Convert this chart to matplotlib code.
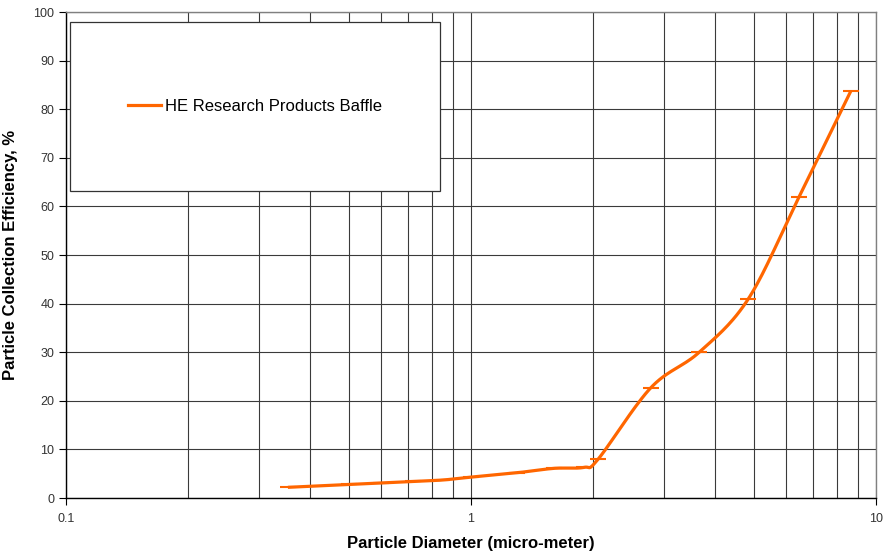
import numpy as np
import matplotlib
matplotlib.use("Agg")
import matplotlib.pyplot as plt
from matplotlib.patches import Rectangle
from matplotlib.ticker import FixedLocator, NullFormatter, FixedFormatter

plt.rcParams['font.family'] = ['Liberation Sans', 'DejaVu Sans']

series_name = "HE Research Products Baffle"
diameter = [0.353, 0.5, 0.6, 0.72, 0.85, 1.0, 1.3, 1.6, 1.9, 2.06, 2.78, 3.66, 4.84, 6.45, 8.66]
efficiency = [2.2, 2.8, 3.1, 3.4, 3.7, 4.3, 5.2, 6.1, 6.3, 8.0, 22.7, 30.0, 41.0, 61.9, 83.7]
x_tick_labels = ["0.1", "1", "10"]
y_ticks = list(range(0, 101, 10))


def excel_smooth(xs, ys, n=30):
    # Excel-like smoothed line (cardinal Bezier) in log-x space
    lx = np.log10(np.asarray(xs, float))
    y = np.asarray(ys, float)
    sx, sy = 405.0, 4.86
    P = np.column_stack([lx * sx, y * sy])
    out = [P[0]]
    m = len(P)
    for i in range(m - 1):
        p0 = P[i - 1] if i > 0 else P[i]
        p1 = P[i]
        p2 = P[i + 1]
        p3 = P[i + 2] if i + 2 < m else P[i + 1]
        c1 = p1 + (p2 - p0) / 6.0
        c2 = p2 - (p3 - p1) / 6.0
        t = np.linspace(0, 1, n)[1:, None]
        seg = ((1 - t) ** 3) * p1 + 3 * ((1 - t) ** 2) * t * c1 + 3 * (1 - t) * t ** 2 * c2 + t ** 3 * p2
        out.extend(seg)
    out = np.array(out)
    return 10 ** (out[:, 0] / sx), out[:, 1] / sy


fig = plt.figure(figsize=(8.84, 5.56), dpi=100)
ax = fig.add_axes([0.0747, 0.1043, 0.9163, 0.8741])
ax.set_xscale('log')
ax.set_xlim(0.1, 10)
ax.set_ylim(0, 100)

orange = '#FF6600'
sx, sy = excel_smooth(diameter, efficiency)
ax.plot(sx, sy, color=orange, lw=2.3, solid_capstyle='butt', zorder=5)
ax.plot(diameter, efficiency, linestyle='none', marker='_', markersize=11,
        markeredgewidth=1.5, color=orange, zorder=6)

# grid
grid_col = '#3a3a3a'
ax.set_axisbelow(True)
ax.xaxis.set_major_locator(FixedLocator([0.1, 1, 10]))
ax.xaxis.set_major_formatter(FixedFormatter(x_tick_labels))
ax.xaxis.set_minor_locator(FixedLocator([k * d for d in (0.1, 1) for k in range(2, 10)]))
ax.xaxis.set_minor_formatter(NullFormatter())
ax.set_yticks(y_ticks)
ax.grid(True, which='both', axis='x', color=grid_col, lw=0.8)
ax.grid(True, which='major', axis='y', color=grid_col, lw=0.8)

ax.tick_params(axis='both', which='major', direction='out', length=5, width=0.8,
               labelsize=9, labelcolor='#333333', color='black')
ax.tick_params(axis='x', which='minor', length=0)
ax.tick_params(axis='x', which='major', pad=6)

for s in ('left', 'bottom'):
    ax.spines[s].set_color('black')
    ax.spines[s].set_linewidth(1.0)
for s in ('top', 'right'):
    ax.spines[s].set_color('#808080')
    ax.spines[s].set_linewidth(1.0)

ax.set_xlabel("Particle Diameter (micro-meter)", fontsize=12, fontweight='bold', labelpad=8)
ax.set_ylabel("Particle Collection Efficiency, %", fontsize=12, fontweight='bold', labelpad=11)

# legend box
box = Rectangle((0.005, 0.632), 0.457, 0.347, transform=ax.transAxes,
                facecolor='white', edgecolor='#333333', lw=0.9, zorder=10)
ax.add_patch(box)
leg = ax.legend([plt.Line2D([], [], color=orange, lw=2.3)], [series_name],
                loc='center', bbox_to_anchor=(0.2335, 0.805), bbox_transform=ax.transAxes,
                frameon=False, fontsize=12, handlelength=2.0, handletextpad=0.25)
leg.set_zorder(11)

fig.savefig("out.png", dpi=100)
